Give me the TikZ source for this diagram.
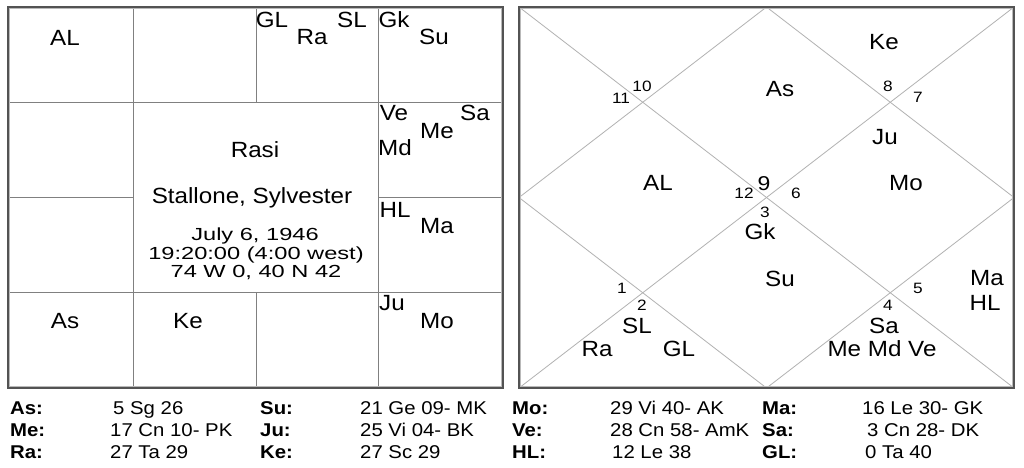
\documentclass[tikz,border=0pt]{standalone}
\usepackage{fontspec}
\setmainfont{Liberation Sans}
\newfontfamily\plfont[FakeStretch=1.1]{Liberation Sans}
\newfontfamily\dtfont[FakeStretch=1.35]{Liberation Sans}
\newfontfamily\nmfont[FakeStretch=1.15]{Liberation Sans}
\newfontfamily\tbfont[FakeStretch=1.1]{Liberation Sans}
\begin{document}
\begin{tikzpicture}[x=1pt,y=-1pt,
  pl/.style={font=\plfont\fontsize{22}{26}\selectfont, inner sep=0pt, text height=15.8pt, text depth=0pt},
  ttl/.style={font=\plfont\fontsize{22}{26}\selectfont, inner sep=0pt, text height=15.8pt, text depth=0pt},
  dt/.style={font=\dtfont\fontsize{17.5}{20}\selectfont, inner sep=0pt, text height=12.6pt, text depth=0pt},
  num/.style={font=\nmfont\fontsize{15}{17}\selectfont, inner sep=0pt, text height=10.7pt, text depth=0pt},
  bignum/.style={font=\nmfont\fontsize{20}{22}\selectfont, inner sep=0pt, text height=14.3pt, text depth=0pt},
  tlab/.style={font=\tbfont\bfseries\fontsize{18.5}{22}\selectfont, inner sep=0pt, anchor=west, text height=13.3pt, text depth=0pt},
  tval/.style={font=\tbfont\fontsize{18.5}{22}\selectfont, inner sep=0pt, anchor=west, text height=13.3pt, text depth=0pt},
  grid/.style={draw=gray, line width=1pt},
  dia/.style={draw=gray!60, line width=0.8pt},
  frameout/.style={draw=gray!65!black, line width=1.3pt},
  framein/.style={draw=gray!55, line width=1pt}]
\useasboundingbox (0,0) rectangle (1024,467);
\fill[white] (0,0) rectangle (1024,467);

% ---------- left chart (Rasi, south style) ----------
\coordinate (L1) at (8,7);
\coordinate (L2) at (503,388);
\draw[grid] (133,7) -- (133,388);
\draw[grid] (378,7) -- (378,388);
\draw[grid] (256,7) -- (256,102);
\draw[grid] (256,292) -- (256,388);
\draw[grid] (8,102) -- (503,102);
\draw[grid] (8,292) -- (503,292);
\draw[grid] (8,197) -- (133,197);
\draw[grid] (378,197) -- (503,197);
\draw[framein] (9.5,8.5) rectangle (501.5,386.5);
\draw[frameout] (L1) rectangle (L2);

\node[pl] (lAL) at (65,38) {AL};
\node[pl] (lGL) at (272,20) {GL};
\node[pl] (lRa) at (312,37) {Ra};
\node[pl] (lSL) at (352,20) {SL};
\node[pl] (lGk) at (394,20) {Gk};
\node[pl] (lSu) at (434,37) {Su};
\node[pl] (lVe) at (394,113) {Ve};
\node[pl] (lSa) at (475,113) {Sa};
\node[pl] (lMe) at (437,131) {Me};
\node[pl] (lMd) at (395,148) {Md};
\node[pl] (lHL) at (395,210) {HL};
\node[pl] (lMa) at (437,226) {Ma};
\node[pl] (lJu) at (392,303) {Ju};
\node[pl] (lMo) at (437,321) {Mo};
\node[pl] (lAs) at (65,321) {As};
\node[pl] (lKe) at (188,321) {Ke};

\node[pl] (rasi) at (255,150) {Rasi};
\node[ttl] (name) at (252,196) {Stallone, Sylvester};
\node[dt] (date) at (255,234) {July 6, 1946};
\node[dt] (time) at (256,253) {19:20:00 (4:00 west)};
\node[dt] (place) at (256,271) {74 W 0, 40 N 42};

% ---------- right chart (north style) ----------
\coordinate (R1) at (519,7);
\coordinate (R2) at (1014,7);
\coordinate (R3) at (1014,388);
\coordinate (R4) at (519,388);
\coordinate (Mt) at (766.5,7);
\coordinate (Mr) at (1014,197.5);
\coordinate (Mb) at (766.5,388);
\coordinate (Ml) at (519,197.5);
\draw[dia] (R1) -- (R3);
\draw[dia] (R2) -- (R4);
\draw[dia] (Mt) -- (Mr) -- (Mb) -- (Ml) -- cycle;
\draw[framein] (520.5,8.5) rectangle (1012.5,386.5);
\draw[frameout] (R1) rectangle (R3);

\node[num] (n10) at (642,86) {10};
\node[num] (n11) at (621,98) {11};
\node[num] (n8) at (888,86) {8};
\node[num] (n7) at (918,97) {7};
\node[bignum] (n9) at (764,183) {9};
\node[num] (n12) at (744,193) {12};
\node[num] (n6) at (796,193) {6};
\node[num] (n3) at (765,212) {3};
\node[num] (n1) at (622,288) {1};
\node[num] (n2) at (642,305) {2};
\node[num] (n5) at (918,288) {5};
\node[num] (n4) at (888,305) {4};

\node[pl] (rKe) at (884,42) {Ke};
\node[pl] (rAs) at (780,89) {As};
\node[pl] (rJu) at (885,137) {Ju};
\node[pl] (rAL) at (658,183) {AL};
\node[pl] (rMo) at (906,183) {Mo};
\node[pl] (rGk) at (760,232) {Gk};
\node[pl] (rSu) at (780,279) {Su};
\node[pl] (rSL) at (637,326) {SL};
\node[pl] (rRa) at (597,349) {Ra};
\node[pl] (rGL) at (679,349) {GL};
\node[pl] (rSa) at (884,326) {Sa};
\node[pl] (rMMV) at (882,349) {Me Md Ve};
\node[pl] (rMa) at (987,278) {Ma};
\node[pl] (rHL) at (985,303) {HL};

% ---------- table ----------
\node[tlab] (tAs) at (10,408) {As:};
\node[tval] (vAs) at (113,408) {5 Sg 26};
\node[tlab] (tSu) at (260,408) {Su:};
\node[tval] (vSu) at (360,408) {21 Ge 09- MK};
\node[tlab] (tMo) at (512,408) {Mo:};
\node[tval] (vMo) at (610,408) {29 Vi 40- AK};
\node[tlab] (tMa) at (762,408) {Ma:};
\node[tval] (vMa) at (862,408) {16 Le 30- GK};

\node[tlab] (tMe) at (10,430) {Me:};
\node[tval] (vMe) at (110,430) {17 Cn 10- PK};
\node[tlab] (tJu) at (260,430) {Ju:};
\node[tval] (vJu) at (360,430) {25 Vi 04- BK};
\node[tlab] (tVe) at (512,430) {Ve:};
\node[tval] (vVe) at (610,430) {28 Cn 58- AmK};
\node[tlab] (tSa) at (762,430) {Sa:};
\node[tval] (vSa) at (867,430) {3 Cn 28- DK};

\node[tlab] (tRa) at (10,452) {Ra:};
\node[tval] (vRa) at (110,452) {27 Ta 29};
\node[tlab] (tKe) at (260,452) {Ke:};
\node[tval] (vKe) at (360,452) {27 Sc 29};
\node[tlab] (tHL) at (512,452) {HL:};
\node[tval] (vHL) at (612,452) {12 Le 38};
\node[tlab] (tGL) at (762,452) {GL:};
\node[tval] (vGL) at (865,452) {0 Ta 40};
\end{tikzpicture}
\end{document}
